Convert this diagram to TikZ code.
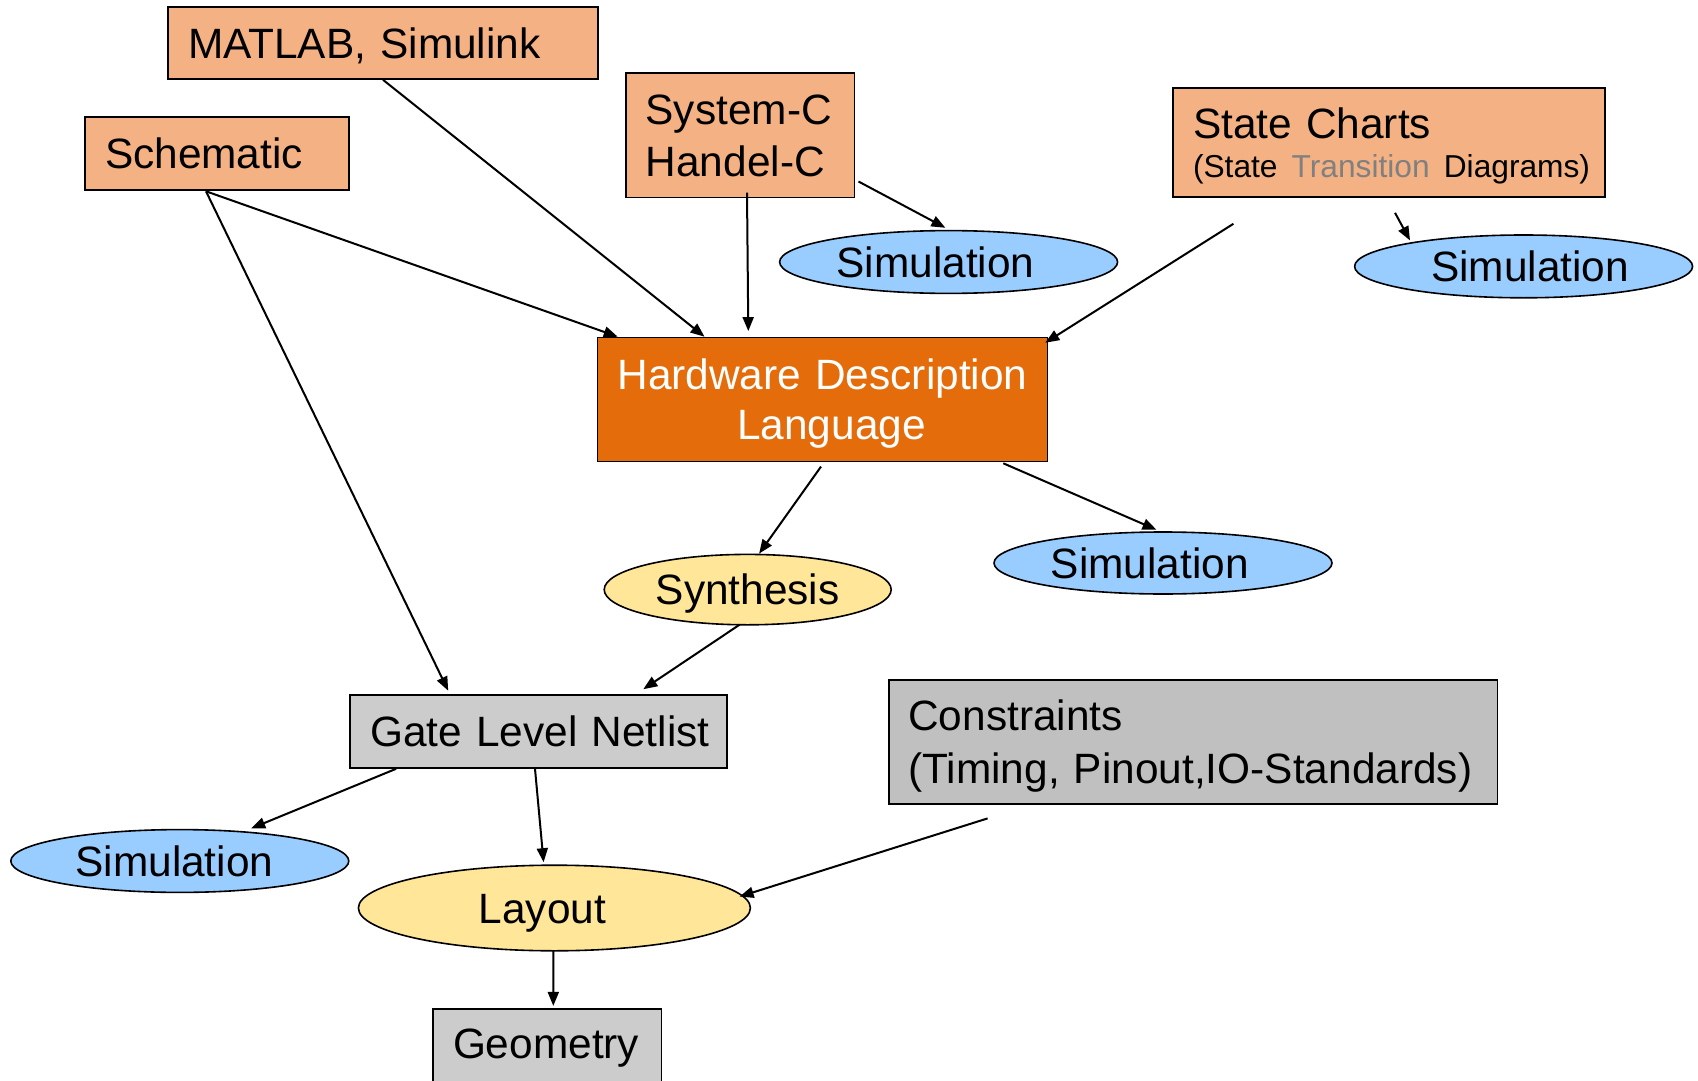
\documentclass[tikz,border=0pt]{standalone}
\usepackage{fontspec}
\setmainfont{Liberation Sans}
\usetikzlibrary{shapes.geometric,arrows.meta,calc}
\definecolor{lorange}{HTML}{F4B183}
\definecolor{dorange}{HTML}{E46C0A}
\definecolor{lblue}{HTML}{99CCFF}
\definecolor{lyellow}{HTML}{FFE699}
\definecolor{lgray}{HTML}{CCCCCC}
\definecolor{mgray}{HTML}{C0C0C0}
\definecolor{tgray}{HTML}{808080}
\begin{document}
\begin{tikzpicture}[x=0.5pt,y=-0.5pt,
  font=\fontsize{21.2}{26}\selectfont,
  box/.style={draw=black, line width=0.8pt, inner sep=0pt, align=left, text height=15.2pt, text depth=0pt},
  ell/.style={ellipse, draw=black, line width=0.8pt, inner sep=0pt, text height=15.2pt, text depth=0pt},
  arr/.style={-{Triangle[length=7pt,width=5.5pt]}, line width=1pt}]
\useasboundingbox (0,0) rectangle (1698,1081);
\clip (0,0) rectangle (1698,1081);

% boxes
\node[box, fill=lorange, minimum width=215pt, minimum height=36pt, text width=195pt] (mat) at (383,43) {\mbox{MATLAB, Simulink}};
\node[box, fill=lorange, minimum width=132pt, minimum height=36.5pt, text width=112pt] (sch) at (217,153.5) {\mbox{Schematic}};
\node[box, fill=lorange, minimum width=114.3pt, minimum height=62pt, text width=94.3pt, text depth=26pt] (sysc) at (740,135.3) {\mbox{System-C}\\\mbox{Handel-C}};
\node[box, fill=lorange, minimum width=216pt, minimum height=54.5pt, text width=196pt, text depth=19.5pt] (sc) at (1389,142.5) {\mbox{State Charts}\\[-6.5pt]\mbox{\fontsize{15.85}{19.5}\selectfont (State \textcolor{tgray}{Transition} Diagrams)}};
\node[box, fill=dorange, text=white, align=center, minimum width=225pt, minimum height=62pt, text width=205pt, text depth=25pt] (hdl) at (822.5,399.5) {\mbox{Hardware Description}\\[-1pt]\mbox{\hspace*{9pt}Language}};
\node[box, fill=lgray, minimum width=188.5pt, minimum height=36.5pt, text width=168.5pt] (gate) at (538.7,731.5) {\mbox{Gate Level Netlist}};
\node[box, fill=mgray, minimum width=304.3pt, minimum height=62pt, text width=285pt, text depth=26.5pt] (con) at (1193.3,742) {\mbox{Constraints}\\[0.5pt]\mbox{(Timing, Pinout,IO-Standards)}};
\node[box, fill=lgray, minimum width=114.3pt, minimum height=40pt, text width=94.3pt, text depth=5.5pt] (geo) at (547.3,1049) {\mbox{Geometry}};

% ellipses
\node[ell, fill=lblue, minimum width=169pt, minimum height=31.4pt] (sim1) at (948.6,262) {Simulation\hspace*{13pt}};
\node[ell, fill=lblue, minimum width=169pt, minimum height=31.4pt] (sim2) at (1523.6,266.4) {\hspace*{6.5pt}Simulation};
\node[ell, fill=lblue, minimum width=169pt, minimum height=31pt] (sim3) at (1163,563) {Simulation\hspace*{13.3pt}};
\node[ell, fill=lblue, minimum width=169pt, minimum height=31.4pt] (sim4) at (179.8,861) {Simulation\hspace*{5.4pt}};
\node[ell, fill=lyellow, minimum width=143.5pt, minimum height=35.2pt] (syn) at (747.7,589.6) {Synthesis};
\node[ell, fill=lyellow, minimum width=196pt, minimum height=42.8pt] (lay) at (554.4,908) {Layout\hspace*{12pt}};

% connectors
\draw[arr] (mat.south) -- ($(hdl.north)+(-118,0)$);
\draw[arr] ($(sch.south)+(-11,0.5)$) -- ($(hdl.north west)+(21,0)$);
\draw[arr] ($(sch.south)+(-11,0.5)$) -- ($(gate.north)+(-90.5,-3.5)$);
\draw[arr] ($(sysc.south)+(7,-5.5)$) -- ($(hdl.north)+(-74.2,-5.6)$);
\draw[arr] ($(sysc.south east)+(3.4,-16.6)$) -- ($(sim1.north)+(-3.2,-2)$);
\draw[arr] ($(sc.south)+(-155.6,26)$) -- ($(hdl.north east)+(-3,6)$);
\draw[arr] ($(sc.south)+(6,15)$) -- ($(sim2.center)+(-113.6,-26)$);
\draw[arr] ($(hdl.south)+(-1.5,4.3)$) -- ($(syn.north)+(11.4,0)$);
\draw[arr] ($(hdl.south)+(180.8,1)$) -- ($(sim3.north)+(-6.5,-1.4)$);
\draw[arr] ($(syn.south)+(-8,-1)$) -- ($(gate.north)+(104.6,-5)$);
\draw[arr] ($(gate.south west)+(46.7,0)$) -- ($(sim4.center)+(71.4,-32.6)$);
\draw[arr] ($(gate.south)+(-3.7,0)$) -- ($(lay.north)+(-10.8,-2.2)$);
\draw[arr] ($(con.south)+(-205.7,13.6)$) -- ($(lay.center)+(185.2,-11.4)$);
\draw[arr] ($(lay.south)+(-1,-1)$) -- ($(geo.north)+(6,-2.3)$);
\end{tikzpicture}
\end{document}
